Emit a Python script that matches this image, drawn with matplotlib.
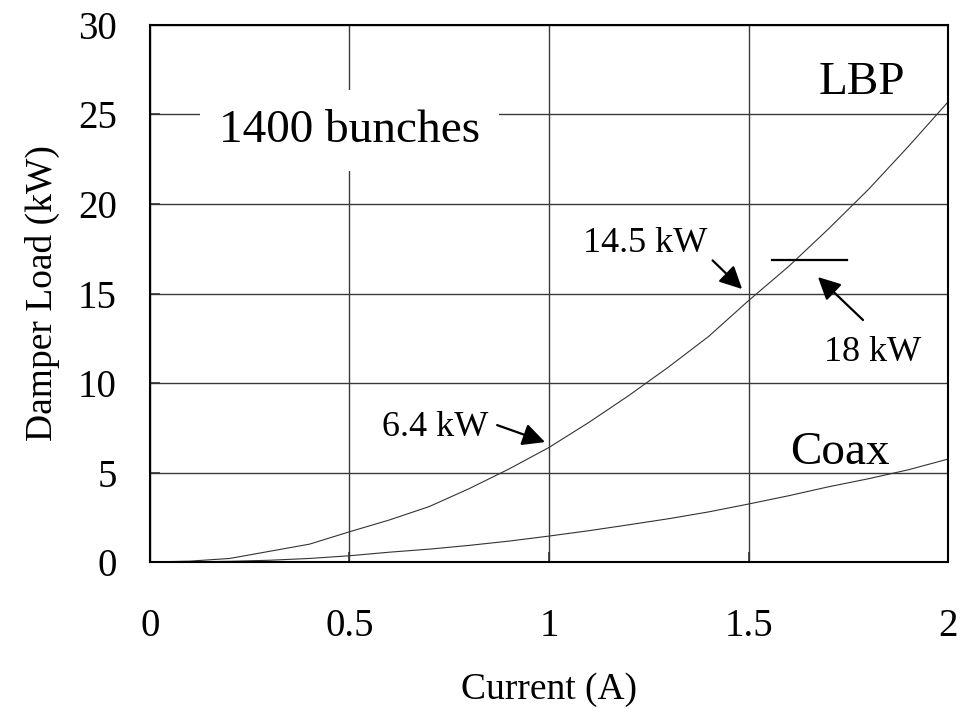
import numpy as np
import matplotlib.pyplot as plt

plt.rcParams['font.family'] = ['Liberation Serif', 'DejaVu Serif']

# Current (A)
current = [0, 0.1, 0.2, 0.3, 0.4, 0.5, 0.6, 0.7, 0.8, 0.9, 1.0,
           1.1, 1.2, 1.3, 1.4, 1.5, 1.6, 1.7, 1.8, 1.9, 2.0]
# Damper load (kW)
lbp = [0, 0.05, 0.2, 0.6, 1.0, 1.69, 2.35, 3.1, 4.1, 5.2, 6.4,
       7.8, 9.3, 10.9, 12.6, 14.6, 16.5, 18.6, 20.8, 23.2, 25.7]
coax = [0, 0.01, 0.04, 0.1, 0.2, 0.35, 0.55, 0.72, 0.93, 1.17, 1.45,
        1.75, 2.08, 2.42, 2.8, 3.24, 3.7, 4.2, 4.65, 5.15, 5.75]

xticks = [0, 0.5, 1, 1.5, 2]
xticklabels = ['0', '0.5', '1', '1.5', '2']
yticks = [0, 5, 10, 15, 20, 25, 30]

fig = plt.figure(figsize=(9.65, 7.2), dpi=100)
ax = fig.add_axes([0.1554, 0.2194, 0.8270, 0.7459])

ax.plot(current, lbp, color='#333333', lw=0.8, zorder=3)
ax.plot(current, coax, color='#333333', lw=0.8, zorder=3)

ax.set_xlim(0, 2)
ax.set_ylim(0, 30)
ax.set_xticks(xticks)
ax.set_xticklabels(xticklabels)
ax.set_yticks(yticks)
ax.grid(True, color='#3a3a3a', lw=1.0)
ax.set_axisbelow(True)
ax.tick_params(axis='both', direction='in', length=7, width=1.2,
               labelsize=28, color='#333333')
ax.tick_params(axis='x', pad=33)
ax.tick_params(axis='y', pad=24)
for s in ax.spines.values():
    s.set_linewidth(1.5)
    s.set_zorder(4)

ax.set_xlabel('Current (A)', fontsize=27, labelpad=20)
ax.set_ylabel('Damper Load (kW)', fontsize=27, labelpad=13)

ax.text(0.5, 24.1, '1400 bunches', fontsize=34, ha='center', va='center',
        bbox=dict(facecolor='white', edgecolor='none', boxstyle='square,pad=0.4'),
        zorder=5)
ax.text(1.785, 26.8, 'LBP', fontsize=34, ha='center', va='center')
ax.text(1.73, 6.1, 'Coax', fontsize=34, ha='center', va='center')

ax.text(0.714, 7.5, '6.4 kW', fontsize=26, ha='center', va='center')
ax.text(1.24, 17.8, '14.5 kW', fontsize=26, ha='center', va='center')
ax.text(1.81, 11.7, '18 kW', fontsize=26, ha='center', va='center')

arrow = dict(arrowstyle='-|>', mutation_scale=34, lw=1.6, color='k',
             shrinkA=0, shrinkB=0)
ax.annotate('', xy=(0.99, 6.7), xytext=(0.87, 7.65), arrowprops=arrow)
ax.annotate('', xy=(1.484, 15.25), xytext=(1.41, 16.85), arrowprops=arrow)
ax.annotate('', xy=(1.674, 15.92), xytext=(1.787, 13.52), arrowprops=arrow)

# 18 kW level mark
ax.plot([1.559, 1.747], [16.85, 16.85], color='k', lw=1.6, zorder=3)

fig.savefig('out.png', dpi=100)
